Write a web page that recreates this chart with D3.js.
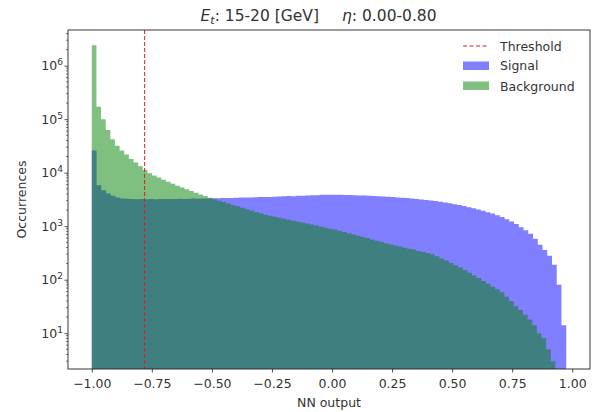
<!DOCTYPE html>
<html>
<head>
<meta charset="utf-8">
<script src="https://cdn.jsdelivr.net/npm/d3@7"></script>
<style>
  html, body { margin: 0; padding: 0; background: #fff; }
  svg { display: block; font-family: "DejaVu Sans", sans-serif; }
</style>
</head>
<body>
<svg id="chart" width="601" height="412"></svg>
<script>
// ---- data ----
const titleEt = "15-20 [GeV]";
const titleEta = "0.00-0.80";
const xTicks = [-1.00, -0.75, -0.50, -0.25, 0.00, 0.25, 0.50, 0.75, 1.00];
const yTicks = [1e1, 1e2, 1e3, 1e4, 1e5, 1e6];
const threshold = -0.78;

const signalRange = [-1.0, 0.975];
const signalCounts = [
  26000, 5800, 4700, 4100, 3700, 3450, 3300, 3250,
  3230, 3200, 3210, 3190, 3220, 3200, 3230, 3210, 3240, 3220, 3250, 3240, 3260, 3280, 3270, 3300, 3290, 3320,
  3330, 3350, 3380, 3360, 3400, 3420, 3450, 3440, 3480, 3500, 3530, 3520, 3560, 3600, 3620, 3650, 3640, 3700, 3720, 3760, 3800, 3780, 3850, 3880, 3860,
  3880, 3850, 3820, 3840, 3790, 3760, 3730, 3700, 3660, 3630, 3600, 3560, 3520,
  3450, 3400, 3350, 3300, 3230, 3170, 3100, 3020, 2950, 2860, 2780, 2680,
  2580, 2480, 2380, 2270, 2160, 2050, 1940, 1830, 1720, 1600,
  1480, 1350, 1220, 1100,
  960, 840, 720, 580, 450, 360, 280, 190, 80, 14
];

const backgroundRange = [-1.0, 0.93];
const backgroundCounts = [
  2400000, 170000, 100000, 63000, 42000, 32000, 26000, 22000, 18000, 15500,
  13200, 11200, 9800, 8900, 8100, 7400, 6800, 6200, 5700, 5300,
  4900, 4550, 4200, 3900, 3650, 3400, 3180, 2990, 2820, 2650,
  2500, 2350, 2200, 2080, 1960, 1850, 1740, 1630, 1560, 1500,
  1440, 1380, 1320, 1260, 1210, 1170, 1120, 1070, 1030, 980,
  940, 900, 870, 820, 780, 740, 700, 660, 630, 600,
  565, 535, 510, 480, 455, 435, 415, 395, 380, 365,
  345, 330, 315, 300, 275, 250, 228, 205, 186, 170,
  152, 135, 120, 107, 95, 84, 74, 66, 58, 48,
  40, 32, 27, 22, 18, 14, 10, 8, 5, 3
];

// ---- layout ----
const svg = d3.select("#chart");
const L = 68, R = 590, T = 30, B = 369;
const FS = "12.5px";

const x = d3.scaleLinear().domain([-1.099, 1.074]).range([L, R]);
const y = d3.scaleLog().domain([2.14, 4.65e6]).range([B, T]);

svg.append("defs").append("clipPath").attr("id", "clip")
  .append("rect").attr("x", L).attr("y", T).attr("width", R - L).attr("height", B - T);

function stepPoints(range, counts) {
  const w = (range[1] - range[0]) / counts.length;
  const pts = counts.map((c, i) => [range[0] + i * w, c]);
  pts.push([range[1], counts[counts.length - 1]]);
  return pts;
}

const area = d3.area()
  .x(d => x(d[0]))
  .y0(B)
  .y1(d => y(Math.max(d[1], 1e-3)))
  .curve(d3.curveStepAfter);

const g = svg.append("g").attr("clip-path", "url(#clip)");
g.append("path").datum(stepPoints(signalRange, signalCounts))
  .attr("d", area).attr("fill", "#0000ff").attr("fill-opacity", 0.5);
g.append("path").datum(stepPoints(backgroundRange, backgroundCounts))
  .attr("d", area).attr("fill", "#008000").attr("fill-opacity", 0.5);

// threshold line
g.append("line")
  .attr("x1", x(threshold)).attr("x2", x(threshold))
  .attr("y1", T).attr("y2", B)
  .attr("stroke", "#d62020").attr("stroke-width", 1)
  .attr("stroke-dasharray", "4,2");

// frame
svg.append("rect").attr("x", L).attr("y", T).attr("width", R - L).attr("height", B - T)
  .attr("fill", "none").attr("stroke", "#222").attr("stroke-width", 0.9);

// x axis
const fmtX = v => (v < 0 ? "\u2212" : "") + Math.abs(v).toFixed(2);
const xAxis = svg.append("g").attr("transform", `translate(0,${B})`)
  .call(d3.axisBottom(x).tickValues(xTicks).tickFormat(fmtX).tickSize(3.5).tickPadding(6.5));
xAxis.select(".domain").remove();
xAxis.selectAll("line").attr("stroke", "#222").attr("stroke-width", 0.8);
xAxis.selectAll("text").attr("font-size", FS).attr("fill", "#333")
  .attr("font-family", "DejaVu Sans, sans-serif");

// y axis major
const yAxis = svg.append("g").attr("transform", `translate(${L},0)`)
  .call(d3.axisLeft(y).tickValues(yTicks).tickFormat(() => "").tickSize(3.5));
yAxis.select(".domain").remove();
yAxis.selectAll("line").attr("stroke", "#222").attr("stroke-width", 0.8);

// y minor ticks
const minor = [];
for (let e = 0; e <= 6; e++) for (let m = 2; m <= 9; m++) {
  const v = m * Math.pow(10, e);
  if (v >= 2.14 && v <= 4.65e6) minor.push(v);
}
svg.append("g").selectAll("line").data(minor).join("line")
  .attr("x1", L - 2).attr("x2", L).attr("y1", d => y(d)).attr("y2", d => y(d))
  .attr("stroke", "#222").attr("stroke-width", 0.6);

// y tick labels 10^n
const yl = svg.append("g");
yTicks.forEach(v => {
  const e = Math.round(Math.log10(v));
  const t = yl.append("text").attr("x", L - 5).attr("y", y(v) + 4.5)
    .attr("text-anchor", "end").attr("font-size", FS).attr("fill", "#333");
  t.append("tspan").text("10");
  t.append("tspan").attr("dy", -5).attr("font-size", "9px").text(e);
});

// axis labels
svg.append("text").attr("x", (L + R) / 2).attr("y", 407).attr("text-anchor", "middle")
  .attr("font-size", FS).attr("fill", "#333").text("NN output");
svg.append("text").attr("transform", `translate(26,${(T + B) / 2}) rotate(-90)`)
  .attr("text-anchor", "middle").attr("font-size", FS).attr("fill", "#333").text("Occurrences");

// title (two parts)
const t1 = svg.append("text").attr("x", 319).attr("y", 21).attr("text-anchor", "end")
  .attr("font-size", "15.5px").attr("fill", "#333");
t1.append("tspan").attr("font-style", "italic").text("E");
t1.append("tspan").attr("font-style", "italic").attr("font-size", "11px").attr("dy", 3).text("t");
t1.append("tspan").attr("dy", -3).text(": " + titleEt);
const t2 = svg.append("text").attr("x", 342).attr("y", 21).attr("text-anchor", "start")
  .attr("font-size", "15.5px").attr("fill", "#333");
t2.append("tspan").attr("font-style", "italic").text("\u03B7");
t2.append("tspan").text(": " + titleEta);

// legend
const legend = svg.append("g").attr("font-size", FS).attr("fill", "#333");
const lx = 463, lw = 26, tx = 500;
legend.append("line").attr("x1", lx).attr("x2", lx + lw).attr("y1", 46).attr("y2", 46)
  .attr("stroke", "#d62020").attr("stroke-width", 1).attr("stroke-dasharray", "4,2.5");
legend.append("text").attr("x", tx).attr("y", 50.5).text("Threshold");
legend.append("rect").attr("x", lx).attr("y", 61.5).attr("width", lw).attr("height", 8.5)
  .attr("fill", "#0000ff").attr("fill-opacity", 0.5);
legend.append("text").attr("x", tx).attr("y", 70).text("Signal");
legend.append("rect").attr("x", lx).attr("y", 81.5).attr("width", lw).attr("height", 8.5)
  .attr("fill", "#008000").attr("fill-opacity", 0.5);
legend.append("text").attr("x", tx).attr("y", 90.5).text("Background");
</script>
</body>
</html>
